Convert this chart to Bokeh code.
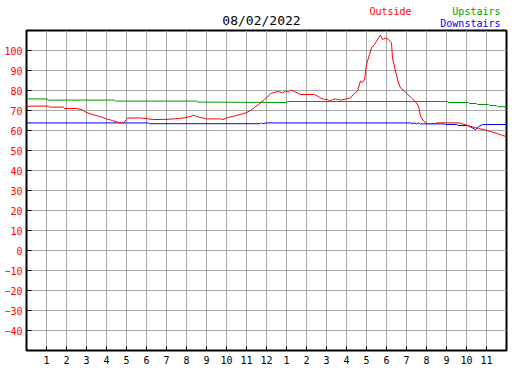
from bokeh.plotting import figure
from bokeh.layouts import column
from bokeh.models import Range1d, FixedTicker
from bokeh.core.properties import value
from bokeh.embed import file_html
from bokeh.resources import INLINE

# ---- data (hours since midnight, temperature) ----
title_text = "08/02/2022"
series_names = ["Outside", "Upstairs", "Downstairs"]
series_colors = ["#ff0000", "#009900", "#0000ff"]
x_ticks = list(range(1, 24))
x_tick_labels = ["1", "2", "3", "4", "5", "6", "7", "8", "9", "10", "11", "12",
                 "1", "2", "3", "4", "5", "6", "7", "8", "9", "10", "11"]
y_ticks = [-40, -30, -20, -10, 0, 10, 20, 30, 40, 50, 60, 70, 80, 90, 100]

outside_h = [0, 0.2, 1.1, 1.15, 1.85, 1.9, 2.5, 2.8, 2.95, 3.2, 3.4, 3.75, 4.0, 4.3, 4.5, 4.75,
             4.85, 5.05, 5.7, 6.1, 6.3, 6.8, 7.4, 7.9, 8.25, 8.35, 8.5, 8.8, 9.0, 9.7, 9.85,
             10.0, 10.2, 10.5, 10.8, 11.0, 11.2, 11.4, 11.6, 11.9, 12.05, 12.2, 12.45, 12.6,
             12.8, 12.95, 13.1, 13.2, 13.35, 13.55, 13.7, 14.4, 14.55, 14.7, 14.9, 15.05,
             15.15, 15.3, 15.45, 15.7, 16.0, 16.2, 16.4, 16.55, 16.7, 16.8, 16.9, 17.0,
             17.15, 17.25, 17.4, 17.45, 17.6, 17.7, 17.8, 17.95, 18.1, 18.25, 18.3, 18.45,
             18.6, 18.7, 18.9, 19.05, 19.25, 19.45, 19.6, 19.7, 19.85, 20.05, 20.45, 20.5,
             21.6, 21.8, 22.05, 22.3, 22.6, 22.95, 23.3, 23.55, 23.8, 24.0]
outside_t = [72.0, 72.2, 72.2, 71.7, 71.7, 71.0, 71.0, 70.3, 69.3, 68.3, 67.7, 66.7, 65.8, 65.0,
             64.3, 63.8, 63.8, 66.2, 66.3, 65.8, 65.5, 65.5, 65.8, 66.3, 67.2, 67.7, 67.0,
             66.3, 65.8, 65.8, 65.5, 66.3, 66.8, 67.5, 68.3, 69.0, 70.0, 71.5, 73.0, 75.5,
             76.8, 78.5, 79.2, 79.5, 78.8, 79.7, 79.2, 80.2, 79.7, 78.8, 78.0, 78.0, 77.2,
             76.3, 75.5, 75.5, 74.7, 75.5, 75.8, 75.2, 75.8, 76.3, 78.6, 79.7, 84.7, 84.0,
             85.5, 93.0, 98.0, 101.3, 103.0, 103.8, 106.3, 107.7, 105.5, 106.3, 105.5, 103.8,
             96.3, 89.7, 83.8, 81.3, 79.7, 78.0, 76.3, 74.3, 72.2, 67.2, 64.7, 63.5, 63.5,
             63.8, 63.8, 63.3, 62.5, 61.8, 61.0, 60.2, 59.2, 58.5, 57.5, 57.0]

upstairs_h = [0, 1.0, 1.1, 4.4, 4.45, 8.5, 8.55, 13.0, 13.05, 21.05, 21.1, 22.1, 22.15, 22.5,
              22.55, 23.1, 23.15, 23.5, 23.55, 24.0]
upstairs_t = [75.8, 75.8, 75.2, 75.2, 74.7, 74.7, 74.2, 74.0, 74.5, 74.5, 74.0, 74.0, 73.5,
              73.5, 73.0, 73.0, 72.5, 72.5, 71.9, 71.9]

downstairs_h = [0, 6.1, 6.15, 11.7, 11.75, 11.8, 12.0, 19.2, 19.3, 19.4, 19.5, 19.6, 19.7,
                20.9, 20.95, 21.5, 21.6, 22.05, 22.3, 22.45, 22.6, 22.8, 24.0]
downstairs_t = [63.8, 63.8, 63.4, 63.4, 63.9, 63.4, 63.8, 63.8, 63.4, 63.8, 63.3, 63.8, 63.3,
                63.3, 63.0, 63.0, 62.5, 62.5, 61.3, 60.5, 61.8, 63.0, 63.0]

MONO = "DejaVu Sans Mono"
W = 527
HEAD_H = 29
FRAME_L = 26
FRAME_W = 480

# ---- header strip (title + legend texts); frame is aligned with the chart frame ----
head = figure(width=W, height=HEAD_H, x_range=Range1d(FRAME_L, FRAME_L + FRAME_W),
              y_range=Range1d(HEAD_H, 0),
              output_backend="svg", toolbar_location=None, min_border=0,
              background_fill_color="white", border_fill_color="white")
head.axis.visible = False
head.grid.visible = False
head.outline_line_color = None

head.text(x=[261], y=[20], text=[title_text], text_align="center", text_baseline="middle",
          text_font=value(MONO), text_font_size="13px", text_color="black")
head.text(x=[369, 500, 500], y=[11, 11, 23], text=series_names,
          text_align=["left", "right", "right"], text_baseline="middle",
          text_font=value(MONO), text_font_size="10px", text_color=series_colors)

# ---- main chart ----
p = figure(frame_width=FRAME_W, frame_height=320,
           x_range=Range1d(0, 24), y_range=Range1d(-50, 110),
           output_backend="svg", toolbar_location=None,
           min_border_left=FRAME_L, min_border_right=W - FRAME_L - FRAME_W,
           min_border_top=1, min_border_bottom=20,
           background_fill_color="white", border_fill_color="white")

p.outline_line_color = "black"
p.outline_line_width = 2

p.xgrid.ticker = FixedTicker(ticks=x_ticks)
p.ygrid.ticker = FixedTicker(ticks=y_ticks)
for g in (p.xgrid, p.ygrid):
    g.grid_line_color = "#a8a8a8"
    g.grid_line_width = 1

p.xaxis.ticker = FixedTicker(ticks=x_ticks)
p.xaxis.major_label_overrides = {t: s for t, s in zip(x_ticks, x_tick_labels)}
p.yaxis.ticker = FixedTicker(ticks=y_ticks)
for ax in (p.xaxis, p.yaxis):
    ax.axis_line_color = None
    ax.major_tick_out = 0
    ax.minor_tick_line_color = None
    ax.major_tick_line_color = "black"
    ax.major_tick_line_width = 1
    ax.major_label_text_font = MONO
    ax.major_label_text_font_size = "10px"
p.xaxis.major_label_standoff = 5
p.yaxis.major_label_standoff = 4
p.xaxis.major_tick_in = 4
p.yaxis.major_tick_in = 5
p.xaxis.major_label_text_color = "black"
p.yaxis.major_label_text_color = "red"

p.line(upstairs_h, upstairs_t, line_color=series_colors[1], line_width=1)
p.line(downstairs_h, downstairs_t, line_color=series_colors[2], line_width=1)
p.line(outside_h, outside_t, line_color=series_colors[0], line_width=1)

layout = column(head, p, spacing=0)
open("out.html", "w").write(file_html(layout, INLINE))
